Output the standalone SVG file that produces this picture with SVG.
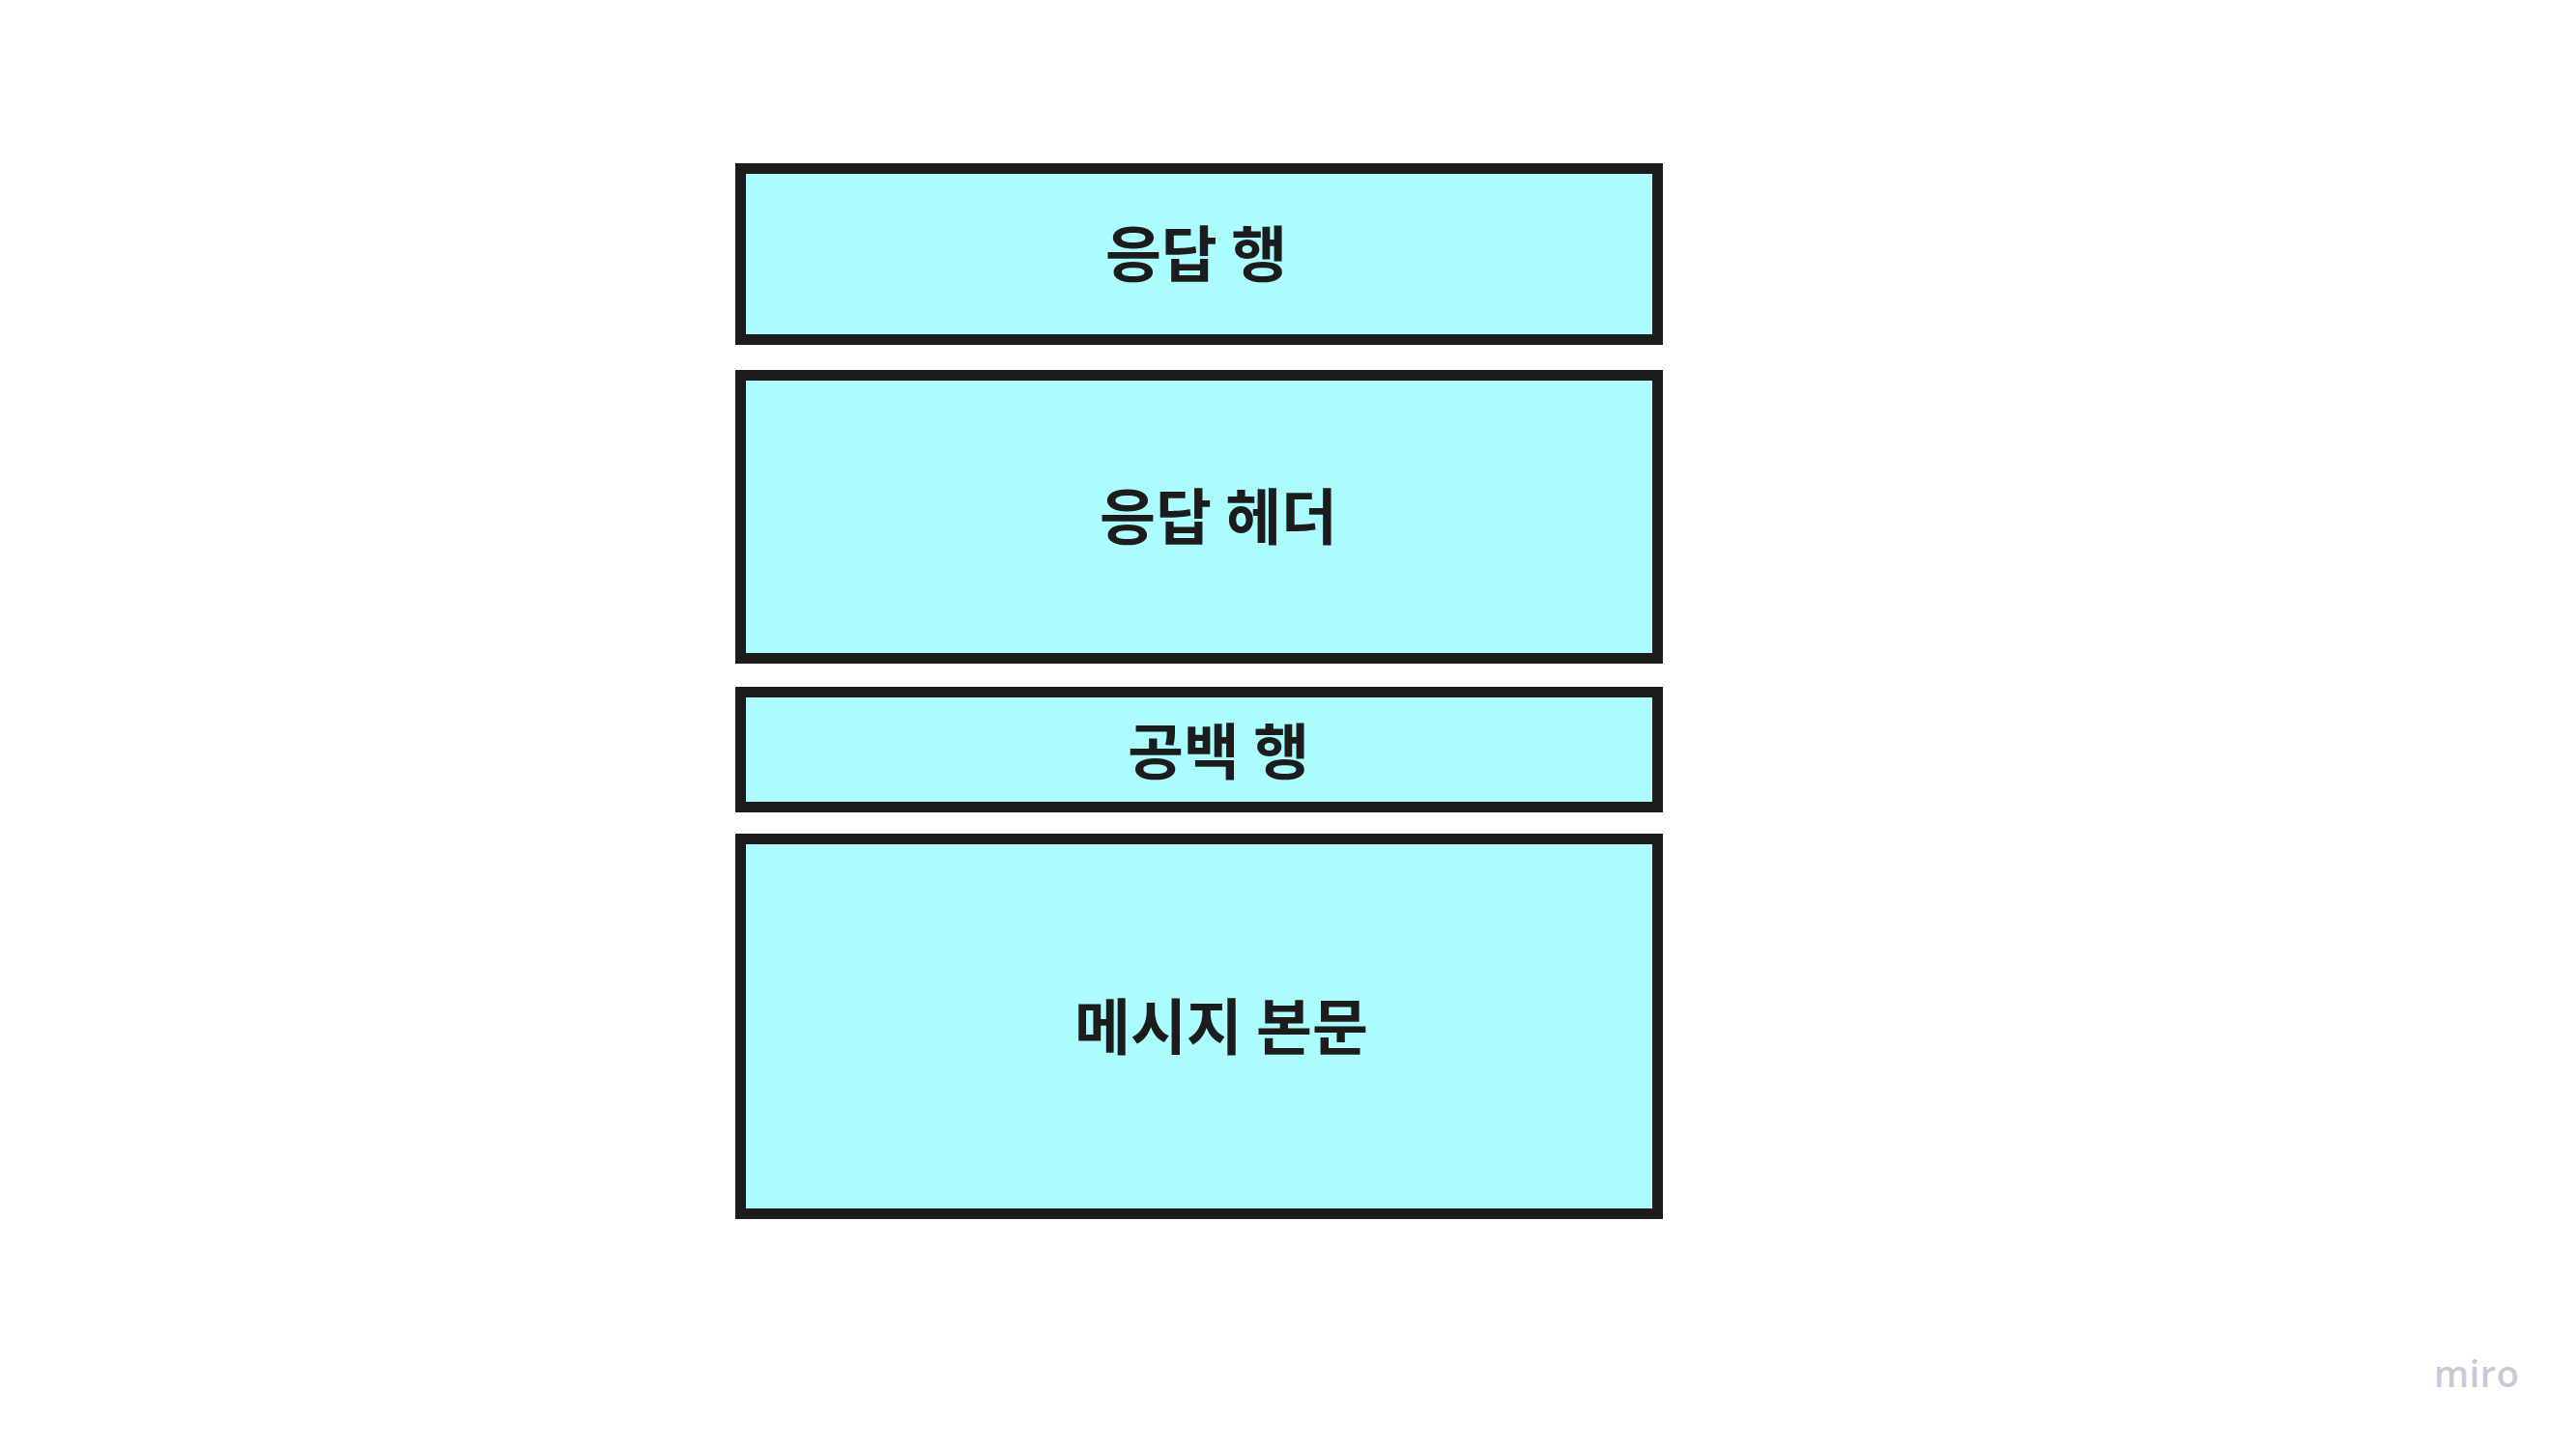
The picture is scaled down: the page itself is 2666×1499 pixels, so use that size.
<svg xmlns="http://www.w3.org/2000/svg" width="2666" height="1499" viewBox="0 0 2666 1499">
<style>
.box{fill:#abfcff;stroke:#1c1c1c;stroke-width:11}
.lbl{font-family:"Noto Sans CJK KR","Noto Sans",sans-serif;font-weight:bold;font-size:63px;fill:#1c1c1c;text-anchor:middle;dominant-baseline:central}
.logo{font-family:"Open Sans","Liberation Sans",sans-serif;font-weight:600;font-size:38px;fill:#c9c9d6;letter-spacing:0.5px}
</style>
<rect width="2666" height="1499" fill="#ffffff"/>
<g id="response-line"><rect class="box" x="766.5" y="174.5" width="949" height="177"/><text class="lbl" x="1238" y="258">응답 행</text></g>
<g id="response-header"><rect class="box" x="766.5" y="388.5" width="949" height="293"/><text class="lbl" x="1261" y="530">응답 헤더</text></g>
<g id="blank-line"><rect class="box" x="766.5" y="716.5" width="949" height="119"/><text class="lbl" x="1261" y="773">공백 행</text></g>
<g id="message-body"><rect class="box" x="766.5" y="868.5" width="949" height="388"/><text class="lbl" x="1264" y="1058">메시지 본문</text></g>
<g id="connectors"></g>
<text class="logo" x="2519" y="1436">miro</text>
</svg>
